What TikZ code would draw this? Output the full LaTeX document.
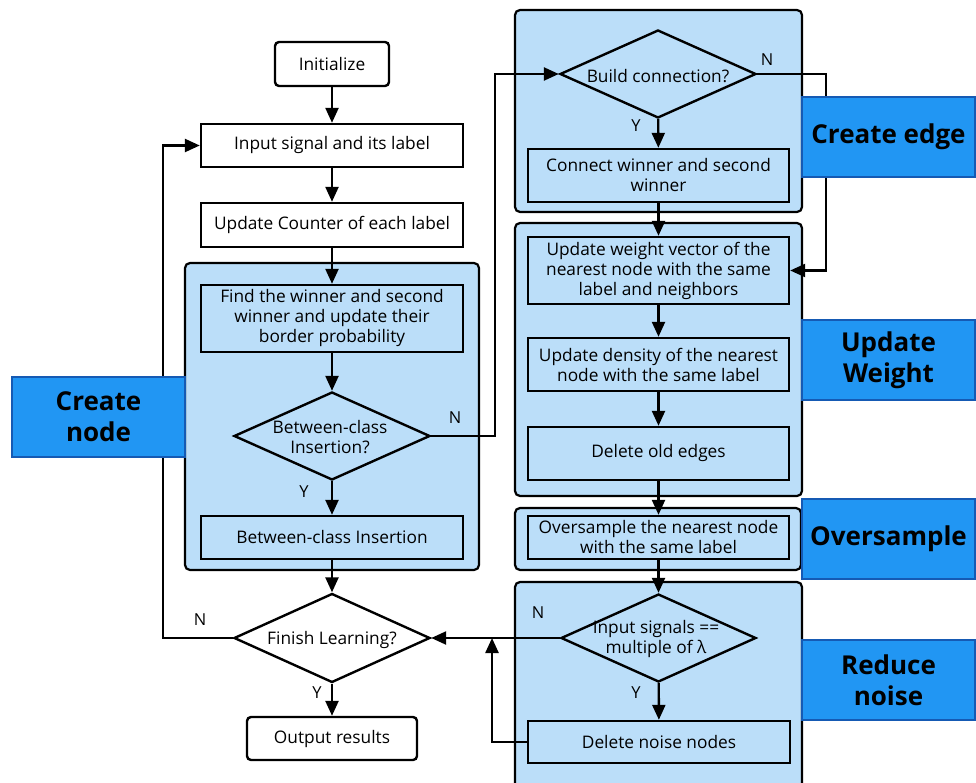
\documentclass[tikz,border=0pt]{standalone}
\usepackage{fontspec}
\setmainfont{Open Sans}
\usetikzlibrary{arrows.meta,shapes.geometric}
\definecolor{grpfill}{RGB}{187,222,249}
\definecolor{lblfill}{RGB}{33,150,243}
\definecolor{lbldraw}{RGB}{21,90,180}
\begin{document}
\begin{tikzpicture}[x=1pt,y=-1pt,
  txt/.style={font=\fontsize{17.3}{20}\selectfont, align=center, inner sep=0pt},
  box/.style={draw, line width=2.4pt, align=center, inner sep=0pt, font=\fontsize{17.3}{20}\selectfont},
  rbox/.style={box, rounded corners=4pt},
  dia/.style={draw, diamond, line width=2.4pt, inner sep=0pt},
  grp/.style={draw, fill=grpfill, line width=2.2pt, rounded corners=5pt, inner sep=0pt},
  lbl/.style={draw=lbldraw, fill=lblfill, line width=2pt, align=center, inner sep=0pt,
    minimum width=173pt, minimum height=80pt, font=\fontsize{26}{31}\selectfont\bfseries},
  arr/.style={line width=2.4pt, -{Triangle[length=15pt,width=13pt]}},
  yn/.style={font=\fontsize{16.5}{18}\selectfont, inner sep=0pt}
]
\clip (0,0) rectangle (976,783);
\fill[white] (0,0) rectangle (976,783);

% groups
\node[grp, minimum width=294pt, minimum height=307pt] (gNode) at (332,416.5) {};
\node[grp, minimum width=287pt, minimum height=202pt] (gEdge) at (658.5,111) {};
\node[grp, minimum width=287pt, minimum height=273pt] (gWeight) at (658.5,359.5) {};
\node[grp, minimum width=286pt, minimum height=62pt] (gOver) at (658,539) {};
\node[grp, minimum width=287pt, minimum height=230pt] (gNoise) at (658.5,697) {};

% left column
\node[rbox, minimum width=114pt, minimum height=44pt] (init) at (332,64) {Initialize};
\node[box, minimum width=262pt, minimum height=43pt] (inp) at (332,145.5) {Input signal and its label};
\node[box, minimum width=262pt, minimum height=44pt] (upd) at (332,225) {Update Counter of each label};
\node[box, minimum width=262pt, minimum height=67pt] (find) at (332,318.5) {Find the winner and second\\winner and update their\\border probability};
\node[dia, minimum width=196pt, minimum height=88pt] (d1) at (332,436) {};
\node[txt] (d1t) at (330,437) {Between-class\\Insertion?};
\node[box, minimum width=262pt, minimum height=43pt] (bci) at (332,537.5) {Between-class Insertion};
\node[dia, minimum width=196pt, minimum height=89pt] (d2) at (332,638) {};
\node[txt] (d2t) at (332,640) {Finish Learning?};
\node[rbox, minimum width=170pt, minimum height=43pt] (out) at (332,738.5) {Output results};

% right column
\node[dia, minimum width=196pt, minimum height=88pt] (bc) at (658,74) {};
\node[txt] (bct) at (658,76) {Build connection?};
\node[box, minimum width=261pt, minimum height=53pt] (conn) at (658.5,175.5) {Connect winner and second\\winner};
\node[box, minimum width=261pt, minimum height=67pt] (uw) at (658.5,270.5) {Update weight vector of the\\nearest node with the same\\label and neighbors};
\node[box, minimum width=261pt, minimum height=53pt] (ud) at (658.5,364.5) {Update density of the nearest\\node with the same label};
\node[box, minimum width=261pt, minimum height=53pt] (dold) at (658.5,453.5) {Delete old edges};
\node[box, minimum width=261pt, minimum height=43pt] (os) at (658.5,537.5) {Oversample the nearest node\\with the same label};
\node[dia, minimum width=195pt, minimum height=88pt] (d3) at (658.5,638) {};
\node[txt] (d3t) at (656,639) {Input signals ==\\multiple of λ};
\node[box, minimum width=262pt, minimum height=42pt] (dn) at (659,742) {Delete noise nodes};

% helper coordinates
\coordinate (cL) at (163,638);
\coordinate (cM) at (495,436);
\coordinate (cR) at (826,74);
\coordinate (cT) at (492,638);

% connectors
\draw[arr] (init) -- (inp);
\draw[arr] (inp) -- (upd);
\draw[arr] (upd) -- (find);
\draw[arr] (find) -- (d1);
\draw[arr] (d1) -- (bci);
\draw[arr] (bci) -- (d2);
\draw[arr] (d2) -- (out);
\draw[arr] (d2.west) -- (cL) |- (inp.west);
\draw[arr] (d1.east) -- (cM) |- (bc.west);
\draw[arr] (bc) -- (conn);
\draw[arr] (conn) -- (uw);
\draw[arr] (bc.east) -- (cR) |- (uw.east);
\draw[arr] (uw) -- (ud);
\draw[arr] (ud) -- (dold);
\draw[arr] (dold) -- (os);
\draw[arr] (os) -- (d3);
\draw[arr] (d3) -- (dn);
\draw[arr] (d3.west) -- (d2.east);
\draw[arr] (dn.west) -| (cT);

% Y/N labels
\node[yn] (n1) at (455,418) {N};
\node[yn] (y1) at (304,492) {Y};
\node[yn] (n2) at (200,620) {N};
\node[yn] (y2) at (317,693) {Y};
\node[yn] (n3) at (767,60) {N};
\node[yn] (y3) at (636,126) {Y};
\node[yn] (n4) at (538,613) {N};
\node[yn] (y4) at (636,693) {Y};

% side labels
\node[lbl] (lNode) at (98.5,417) {Create\\node};
\node[lbl] (lEdge) at (888.5,137) {Create edge};
\node[lbl] (lWeight) at (888.5,360) {Update\\Weight};
\node[lbl] (lOver) at (888.5,538.5) {Oversample};
\node[lbl] (lNoise) at (888.5,680) {Reduce\\noise};
\end{tikzpicture}
\end{document}
